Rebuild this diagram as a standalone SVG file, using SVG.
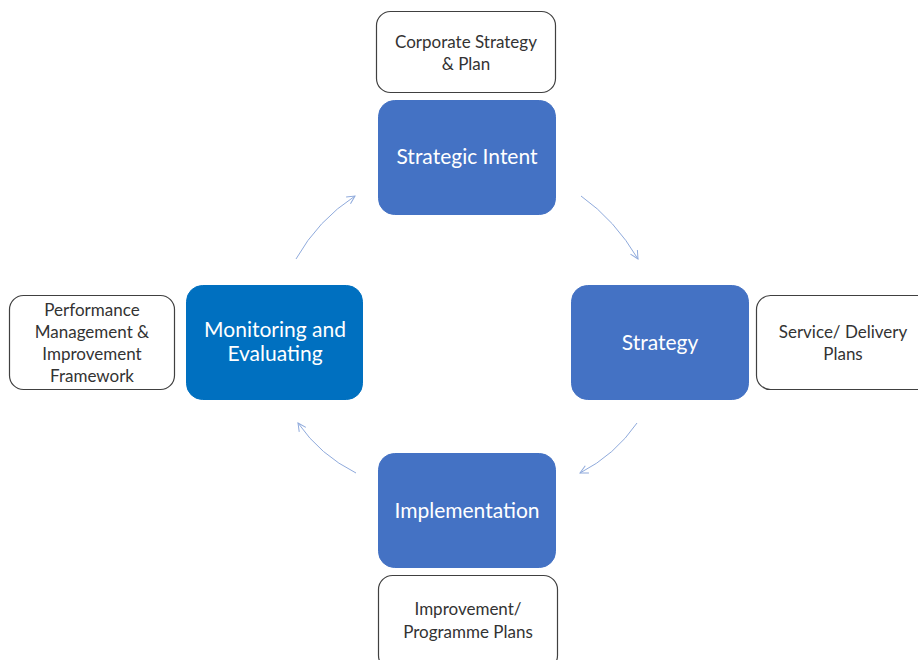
<svg xmlns="http://www.w3.org/2000/svg" width="918" height="660" viewBox="0 0 918 660">
<style>
.main{fill:#4472C4;stroke:#4472C4;stroke-width:1}
.mon{fill:#0070C0;stroke:#0070C0;stroke-width:1}
.side{fill:#fff;stroke:#404040;stroke-width:1.2}
.wt{font-family:Lato,"Open Sans",sans-serif;font-size:21px;fill:#fff;text-anchor:middle}
.bt{font-family:Lato,"Open Sans",sans-serif;font-size:17px;fill:#333;text-anchor:middle}
.arr{fill:none;stroke:#8FAADC;stroke-width:1;marker-end:url(#ah)}
</style>
<defs>
<marker id="ah" viewBox="0 0 10 10" refX="9" refY="5" markerWidth="10" markerHeight="10" markerUnits="userSpaceOnUse" orient="auto">
<path d="M1,1 L9,5 L1,9" fill="none" stroke="#8FAADC" stroke-width="1"/>
</marker>
</defs>
<rect width="918" height="660" fill="#fff"/>
<g id="connectors">
<path class="arr" d="M296,259 Q318,220 355,196"/>
<path class="arr" d="M581,196 Q615,220 638,259"/>
<path class="arr" d="M637,423 Q615,455 580,473"/>
<path class="arr" d="M356,473 Q320,455 298,423"/>
</g>
<g id="corporate">
<rect class="side" x="376.5" y="11.5" width="179" height="81" rx="14"/>
<text class="bt" x="466" y="48">Corporate Strategy</text>
<text class="bt" x="466" y="70">&amp; Plan</text>
</g>
<g id="strategic-intent">
<rect class="main" x="378.5" y="100.5" width="177" height="114" rx="16"/>
<text class="wt" x="467" y="164">Strategic Intent</text>
</g>
<g id="strategy">
<rect class="main" x="571.5" y="285.5" width="177" height="114" rx="16"/>
<text class="wt" x="660" y="350">Strategy</text>
</g>
<g id="service">
<rect class="side" x="756.5" y="295.5" width="175" height="94" rx="14"/>
<text class="bt" x="843" y="338">Service/ Delivery</text>
<text class="bt" x="843" y="360">Plans</text>
</g>
<g id="monitoring">
<rect class="mon" x="186.5" y="285.5" width="176" height="114" rx="16"/>
<text class="wt" x="275" y="337">Monitoring and</text>
<text class="wt" x="275" y="361">Evaluating</text>
</g>
<g id="performance">
<rect class="side" x="9.5" y="295.5" width="165" height="94" rx="14"/>
<text class="bt" x="92" y="316">Performance</text>
<text class="bt" x="92" y="338">Management &amp;</text>
<text class="bt" x="92" y="360">Improvement</text>
<text class="bt" x="92" y="382">Framework</text>
</g>
<g id="implementation">
<rect class="main" x="378.5" y="453.5" width="177" height="114" rx="16"/>
<text class="wt" x="467" y="518">Implementation</text>
</g>
<g id="improvement">
<rect class="side" x="378.5" y="575.5" width="179" height="94" rx="14"/>
<text class="bt" x="468" y="615">Improvement/</text>
<text class="bt" x="468" y="638">Programme Plans</text>
</g>
</svg>
